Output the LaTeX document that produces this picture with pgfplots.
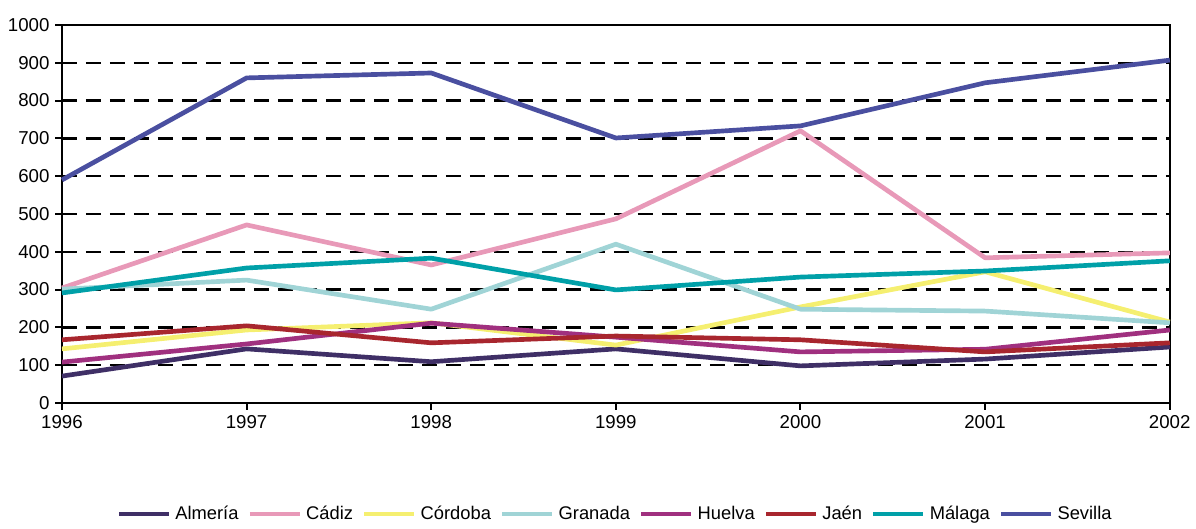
\documentclass[border=0pt]{standalone}
\usepackage{pgfplots}
\pgfplotsset{compat=1.18}
\usepackage{fontspec}
\setmainfont{Liberation Sans}
\definecolor{calm}{HTML}{3F2F66}
\definecolor{ccad}{HTML}{E899B8}
\definecolor{ccor}{HTML}{F5EF70}
\definecolor{cgra}{HTML}{A0D4D6}
\definecolor{chue}{HTML}{A0307F}
\definecolor{cjae}{HTML}{A8262E}
\definecolor{cmal}{HTML}{00A0A8}
\definecolor{csev}{HTML}{4A4FA0}
\begin{document}
\begin{tikzpicture}
\begin{axis}[
  name=ax,
  scale only axis,
  width=664.8pt, height=226.8pt,
  xmin=1996, xmax=2002, ymin=0, ymax=1000,
  xtick={1996,...,2002}, ytick={0,100,...,1000},
  xticklabel style={/pgf/number format/1000 sep={}},
  /pgf/number format/assume math mode=true,
  /pgf/number format/1000 sep={},
  tick label style={font=\fontsize{11.2}{13}\selectfont},
  axis line style={black, line width=1.5pt},
  tick style={black, line width=1.2pt},
  tick align=outside, major tick length=4pt,
  xtick pos=bottom, ytick pos=left,
  ymajorgrids, grid style={black, line width=1.5pt, dash pattern=on 9pt off 5.4pt},
  legend columns=8,
  legend style={at={(0.5,-0.294)}, anchor=center, draw=none, font=\fontsize{11}{13}\selectfont,
    /tikz/every even column/.append style={column sep=3.5pt},
    /tikz/every odd column/.append style={column sep=0.5pt}},
  legend image code/.code={\draw[#1, line width=2.6pt] (0,0) -- (30pt,0);},
  every axis plot/.append style={line width=2.8pt, no marks, line join=round},
  clip=false,
]
\addplot[calm] coordinates {(1996,71) (1997,143) (1998,109) (1999,143) (2000,98) (2001,116) (2002,148)};
\addlegendentry{Almería}
\addplot[ccad] coordinates {(1996,304) (1997,471) (1998,365) (1999,487) (2000,720) (2001,384) (2002,397)};
\addlegendentry{Cádiz}
\addplot[ccor] coordinates {(1996,143) (1997,193) (1998,212) (1999,153) (2000,254) (2001,347) (2002,214)};
\addlegendentry{Córdoba}
\addplot[cgra] coordinates {(1996,301) (1997,325) (1998,248) (1999,420) (2000,248) (2001,243) (2002,212)};
\addlegendentry{Granada}
\addplot[chue] coordinates {(1996,108) (1997,156) (1998,211) (1999,174) (2000,135) (2001,142) (2002,193)};
\addlegendentry{Huelva}
\addplot[cjae] coordinates {(1996,167) (1997,204) (1998,159) (1999,177) (2000,167) (2001,135) (2002,159)};
\addlegendentry{Jaén}
\addplot[cmal] coordinates {(1996,291) (1997,357) (1998,383) (1999,299) (2000,333) (2001,349) (2002,376)};
\addlegendentry{Málaga}
\addplot[csev] coordinates {(1996,590) (1997,860) (1998,873) (1999,701) (2000,733) (2001,847) (2002,907)};
\addlegendentry{Sevilla}
\end{axis}
\path ([xshift=-37.2pt,yshift=-72.6pt]ax.south west) rectangle ([xshift=15.6pt,yshift=15pt]ax.north east);
\end{tikzpicture}
\end{document}
